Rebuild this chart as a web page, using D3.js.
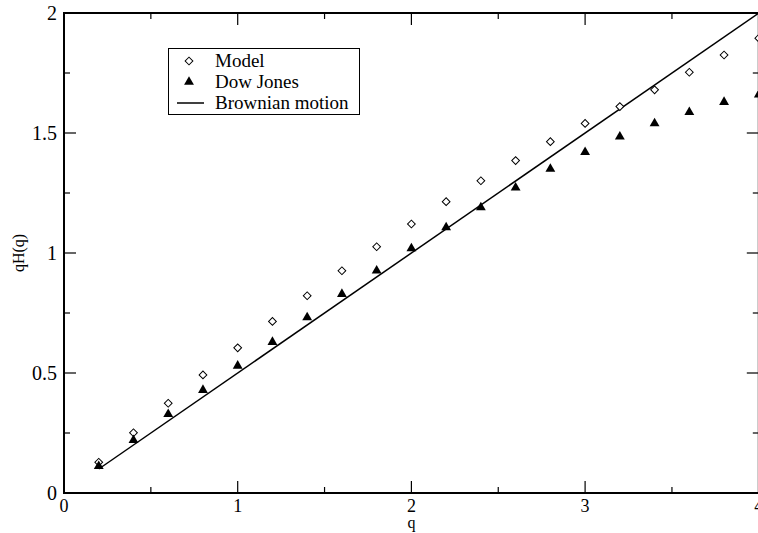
<!DOCTYPE html>
<html>
<head>
<meta charset="utf-8">
<script src="https://cdn.jsdelivr.net/npm/d3@7"></script>
<style>
body{margin:0;background:#fff;}
text{font-family:"Liberation Serif","Times New Roman",serif;fill:#000;}
</style>
</head>
<body>
<div id="vis"></div>
<script>
// data
var qValues = [0.2,0.4,0.6,0.8,1.0,1.2,1.4,1.6,1.8,2.0,2.2,2.4,2.6,2.8,3.0,3.2,3.4,3.6,3.8,4.0];
var model = [0.128,0.251,0.374,0.492,0.605,0.715,0.822,0.926,1.026,1.121,1.214,1.301,1.385,1.464,1.54,1.61,1.68,1.753,1.825,1.895];
var dowJones = [0.112,0.22,0.328,0.429,0.53,0.629,0.732,0.829,0.926,1.019,1.107,1.19,1.272,1.35,1.42,1.485,1.54,1.587,1.629,1.66];
var brownian = [[0.2,0.1],[4.0,2.0]];
var xTicks = [0,1,2,3,4];
var yTicks = [0,0.5,1,1.5,2];
var legendItems = ["Model","Dow Jones","Brownian motion"];

var W = 758, H = 533;
var svg = d3.select("#vis").append("svg").attr("width",W).attr("height",H);

var x = d3.scaleLinear().domain([0,4]).range([64,758.8]);
var y = d3.scaleLinear().domain([0,2]).range([493,13]);

// frame
svg.append("rect").attr("x",x(0)).attr("y",y(2)).attr("width",x(4)-x(0)).attr("height",y(0)-y(2))
    .attr("fill","none").attr("stroke","#000").attr("stroke-width",2);

// ticks, inward on all four sides
var xMinor = d3.range(0.5,4,1), yMinor = d3.range(0.25,2,0.5);
function xtick(v,len){
    svg.append("line").attr("x1",x(v)).attr("x2",x(v)).attr("y1",y(0)).attr("y2",y(0)-len).attr("stroke","#000").attr("stroke-width",1.2);
    svg.append("line").attr("x1",x(v)).attr("x2",x(v)).attr("y1",y(2)).attr("y2",y(2)+len).attr("stroke","#000").attr("stroke-width",1.2);}
function ytick(v,len){
    svg.append("line").attr("y1",y(v)).attr("y2",y(v)).attr("x1",x(0)).attr("x2",x(0)+len).attr("stroke","#000").attr("stroke-width",1.2);
    svg.append("line").attr("y1",y(v)).attr("y2",y(v)).attr("x1",x(4)).attr("x2",x(4)-len).attr("stroke","#000").attr("stroke-width",1.2);}
xTicks.forEach(v => xtick(v,12));
xMinor.forEach(v => xtick(v,6));
yTicks.forEach(v => ytick(v,12));
yMinor.forEach(v => ytick(v,6));

// tick labels
svg.selectAll(".xl").data(xTicks).enter().append("text")
    .attr("x",d => x(d)).attr("y",512).attr("text-anchor","middle").attr("font-size",18).text(d => d);
svg.selectAll(".yl").data(yTicks).enter().append("text")
    .attr("x",57).attr("y",d => y(d)+7).attr("text-anchor","end").attr("font-size",20).text(d => d);

// axis titles
svg.append("text").attr("x",x(2)).attr("y",528).attr("text-anchor","middle").attr("font-size",16).text("q");
svg.append("text").attr("transform","translate(24,253) rotate(-90)").attr("text-anchor","middle").attr("font-size",16).text("qH(q)");

// brownian line
svg.append("path").datum(brownian)
    .attr("d",d3.line().x(d => x(d[0])).y(d => y(d[1])))
    .attr("fill","none").attr("stroke","#000").attr("stroke-width",1.5);

var diamond = d3.symbol().type(d3.symbolSquare).size(30);
var triangle = d3.symbol().type(d3.symbolTriangle).size(42);

svg.selectAll(".model").data(qValues).enter().append("path")
    .attr("d",diamond)
    .attr("transform",(d,i) => "translate("+x(d)+","+y(model[i])+") rotate(45)")
    .attr("fill","#fff").attr("stroke","#000").attr("stroke-width",1);
svg.selectAll(".dow").data(qValues).enter().append("path")
    .attr("d",triangle)
    .attr("transform",(d,i) => "translate("+x(d)+","+y(dowJones[i])+")")
    .attr("fill","#000");

// legend
var lg = svg.append("g");
lg.append("rect").attr("x",168.5).attr("y",48.5).attr("width",191).attr("height",66)
    .attr("fill","#fff").attr("stroke","#000").attr("stroke-width",1);
var rowY = [61,82,103];
lg.append("path").attr("d",diamond).attr("transform","translate(189,"+rowY[0]+") rotate(45)")
    .attr("fill","#fff").attr("stroke","#000");
lg.append("path").attr("d",triangle).attr("transform","translate(189,"+rowY[1]+")").attr("fill","#000");
lg.append("line").attr("x1",177).attr("x2",204).attr("y1",rowY[2]).attr("y2",rowY[2]).attr("stroke","#000").attr("stroke-width",1.5);
lg.selectAll(".lt").data(legendItems).enter().append("text")
    .attr("x",215).attr("y",(d,i) => rowY[i]+6).attr("font-size",19).text(d => d);
</script>
</body>
</html>
